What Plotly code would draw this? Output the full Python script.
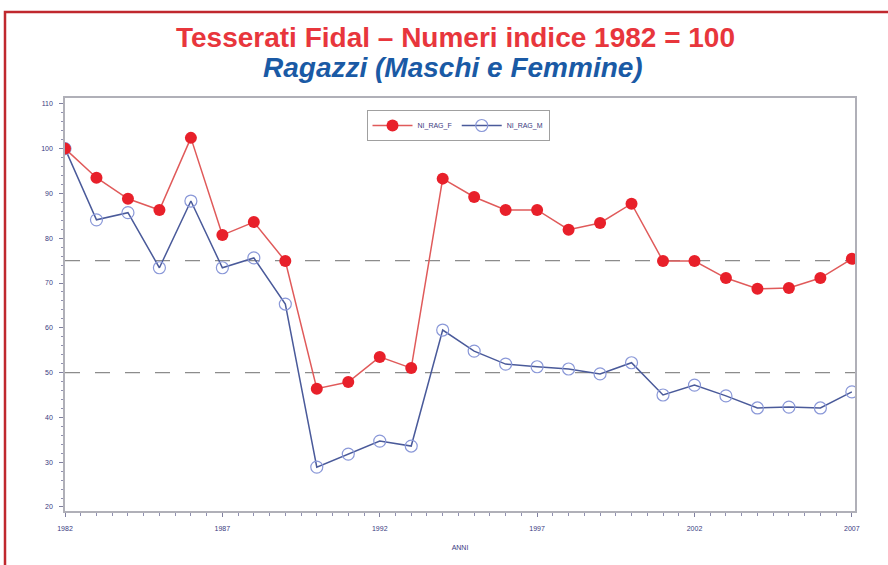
import plotly.graph_objects as go

years = list(range(1982, 2008))
ni_rag_f = [100, 93.5, 88.8, 86.3, 102.4, 80.7, 83.6, 74.9, 46.4, 47.9, 53.5, 51.0, 93.3,
            89.2, 86.3, 86.3, 81.9, 83.4, 87.7, 74.9, 74.9, 71.1, 68.7, 68.9, 71.1, 75.4]
ni_rag_m = [100, 84.1, 85.7, 73.4, 88.3, 73.4, 75.6, 65.3, 28.9, 31.8, 34.7, 33.6, 59.5,
            54.8, 51.9, 51.3, 50.8, 49.7, 52.2, 45.0, 47.2, 44.8, 42.1, 42.3, 42.1, 45.7]
x_ticks = [1982, 1987, 1992, 1997, 2002, 2007]
y_ticks = [20, 30, 40, 50, 60, 70, 80, 90, 100, 110]
ref_lines = [75, 50]

title1 = "Tesserati Fidal – Numeri indice 1982 = 100"
title2 = "Ragazzi (Maschi e Femmine)"

fig = go.Figure()

fig.add_trace(go.Scatter(
    x=years, y=ni_rag_m, name="NI_RAG_M", mode="lines+markers",
    line=dict(color="#4a5a9a", width=1.5),
    marker=dict(symbol="circle-open", size=12, color="#8a98d8", line=dict(width=1.2)),
))
fig.add_trace(go.Scatter(
    x=years, y=ni_rag_f, name="NI_RAG_F", mode="lines+markers",
    line=dict(color="#e05a5a", width=1.5),
    marker=dict(symbol="circle", size=12, color="#e8202a"),
))

for v in ref_lines:
    fig.add_hline(y=v, line=dict(color="#8c8c8c", width=1.2, dash="longdash"), layer="below")

L, R, T, B = 65, 33, 98, 54
W, H = 888, 565
pw, ph = W - L - R, H - T - B

def px(x):
    return (x - L) / pw

def py(y):
    return (H - B - y) / ph

fig.add_shape(type="rect", xref="paper", yref="paper",
              x0=px(5), x1=px(905), y0=py(582), y1=py(12),
              line=dict(color="#c0282e", width=2.5), fillcolor="rgba(0,0,0,0)")

fig.add_annotation(text="<b>" + title1 + "</b>", xref="paper", yref="paper",
                   x=px(455), y=py(37), xanchor="center", yanchor="middle", showarrow=False,
                   font=dict(family="Liberation Sans Narrow, Arial Narrow, Liberation Sans", size=28, color="#e8363c"))
fig.add_annotation(text="<b><i>" + title2 + "</i></b>", xref="paper", yref="paper",
                   x=px(453), y=py(67), xanchor="center", yanchor="middle", showarrow=False,
                   font=dict(family="Liberation Sans Narrow, Arial Narrow, Liberation Sans", size=28, color="#1a5aa5"))

axis_font = dict(family="Liberation Sans", size=7, color="#3a3a80")

fig.update_xaxes(
    range=[1982, 2007.1], tickmode="array", tickvals=x_ticks, ticktext=[str(t) for t in x_ticks],
    ticks="outside", ticklen=4, tickcolor="#8080a0", tickfont=axis_font, ticklabelstandoff=6,
    showgrid=False, zeroline=False, showline=True, linecolor="#b0b0b8", linewidth=1.5, mirror=True,
    minor=dict(dtick=0.5, ticks="outside", ticklen=3, tickcolor="#9090b0"),
    title=dict(text="ANNI", font=dict(family="Liberation Sans", size=7, color="#3a3a80"), standoff=14),
)
fig.update_yaxes(
    range=[19.1, 111.3], tickmode="array", tickvals=y_ticks, ticktext=[str(t) for t in y_ticks],
    ticks="outside", ticklen=4, tickcolor="#8080a0", tickfont=axis_font, ticklabelstandoff=5,
    showgrid=False, zeroline=False, showline=True, linecolor="#b0b0b8", linewidth=1.5, mirror=True,
    minor=dict(dtick=2, ticks="outside", ticklen=2, tickcolor="#9090b0"),
)

fig.update_layout(
    width=W, height=H,
    margin=dict(l=L, r=R, t=T, b=B),
    paper_bgcolor="white", plot_bgcolor="white",
    showlegend=True,
    legend=dict(orientation="h", x=px(458), xanchor="center", y=py(110), yanchor="top",
                traceorder="reversed", bordercolor="#a0a0a0", borderwidth=1,
                font=dict(family="Liberation Sans", size=7, color="#3a3a80"),
                itemwidth=40),
)

fig.write_html("out.html", config={"displayModeBar": False},
               post_script="document.body.style.margin='0';")
